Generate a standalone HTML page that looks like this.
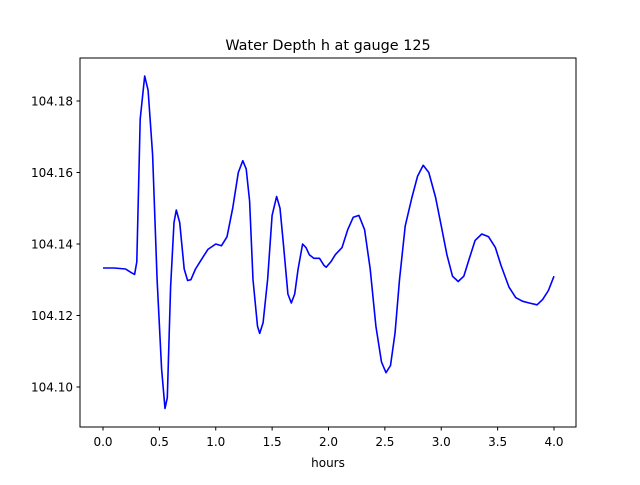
<!DOCTYPE html>
<html><head><meta charset="utf-8"><style>
body{margin:0;background:#fff;}
svg text{font-family:"DejaVu Sans","Liberation Sans",sans-serif;}
</style></head><body>
<svg id="chart" width="640" height="480" xmlns="http://www.w3.org/2000/svg">
<rect width="640" height="480" fill="#fff"/>
<text x="328" y="50" font-size="14.4" text-anchor="middle">Water Depth h at gauge 125</text>
<g id="plot"></g>
<rect x="80" y="58" width="496" height="369" fill="none" stroke="#000" stroke-width="1"/>
<text x="328" y="467" font-size="12" text-anchor="middle">hours</text>
</svg>
<script>
const hours=[0,0.1,0.2,0.25,0.28,0.30,0.33,0.37,0.40,0.44,0.48,0.52,0.55,0.57,0.60,0.63,0.65,0.68,0.72,0.75,0.78,0.82,0.88,0.93,1.0,1.05,1.1,1.15,1.2,1.24,1.27,1.3,1.33,1.37,1.39,1.42,1.46,1.5,1.54,1.57,1.6,1.64,1.67,1.7,1.73,1.77,1.8,1.83,1.87,1.92,1.96,1.98,2.02,2.06,2.12,2.17,2.22,2.27,2.32,2.37,2.42,2.47,2.51,2.55,2.59,2.63,2.68,2.74,2.79,2.84,2.89,2.95,3.0,3.05,3.1,3.15,3.2,3.25,3.3,3.36,3.42,3.48,3.53,3.6,3.66,3.72,3.78,3.85,3.9,3.95,4.0];
const depth=[104.1333,104.1333,104.1330,104.132,104.1315,104.135,104.175,104.187,104.183,104.165,104.13,104.105,104.094,104.097,104.128,104.146,104.1495,104.146,104.133,104.1298,104.130,104.133,104.136,104.1385,104.140,104.1395,104.142,104.150,104.160,104.1633,104.161,104.152,104.130,104.117,104.115,104.118,104.130,104.148,104.1533,104.150,104.140,104.126,104.1235,104.126,104.133,104.140,104.139,104.137,104.136,104.136,104.134,104.1335,104.135,104.137,104.139,104.144,104.1475,104.148,104.144,104.133,104.117,104.107,104.104,104.106,104.115,104.13,104.145,104.153,104.159,104.162,104.160,104.153,104.145,104.137,104.131,104.1295,104.131,104.136,104.141,104.1428,104.142,104.139,104.134,104.128,104.125,104.124,104.1235,104.123,104.1245,104.127,104.131];
const xTicks=[0,0.5,1,1.5,2,2.5,3,3.5,4];
const xTickLabels=["0.0","0.5","1.0","1.5","2.0","2.5","3.0","3.5","4.0"];
const yTicks=[104.10,104.12,104.14,104.16,104.18];
const yTickLabels=["104.10","104.12","104.14","104.16","104.18"];
const NS="http://www.w3.org/2000/svg";
const xs=h=>103+h*112.75;
const ys=v=>387-(v-104.10)/0.02*71.5;
const g=document.getElementById('plot');
xTicks.forEach((t,i)=>{
  const l=document.createElementNS(NS,'line');
  
  
  l.setAttribute('x1',xs(t));l.setAttribute('x2',xs(t));l.setAttribute('y1',427);l.setAttribute('y2',430.5);l.setAttribute('stroke','#000');
  g.appendChild(l);
  const tx=document.createElementNS(NS,'text');
  
  
  tx.setAttribute('x',xs(t));tx.setAttribute('y',446);tx.setAttribute('font-size','12');tx.setAttribute('text-anchor','middle');
  tx.textContent=xTickLabels[i];g.appendChild(tx);
});
yTicks.forEach((t,i)=>{
  const l=document.createElementNS(NS,'line');
  
  
  l.setAttribute('x1',76.5);l.setAttribute('x2',80);l.setAttribute('y1',ys(t));l.setAttribute('y2',ys(t));l.setAttribute('stroke','#000');
  g.appendChild(l);
  const tx=document.createElementNS(NS,'text');
  
  
  tx.setAttribute('x',73);tx.setAttribute('y',ys(t)+4.5);tx.setAttribute('font-size','12');tx.setAttribute('text-anchor','end');
  tx.textContent=yTickLabels[i];g.appendChild(tx);
});
const p=document.createElementNS(NS,'polyline');


p.setAttribute('points',hours.map((h,i)=>xs(h).toFixed(1)+','+ys(depth[i]).toFixed(1)).join(' '));
p.setAttribute('fill','none');p.setAttribute('stroke','#0000ff');p.setAttribute('stroke-width','1.6');p.setAttribute('stroke-linejoin','round');
g.appendChild(p);
</script>
</body></html>
